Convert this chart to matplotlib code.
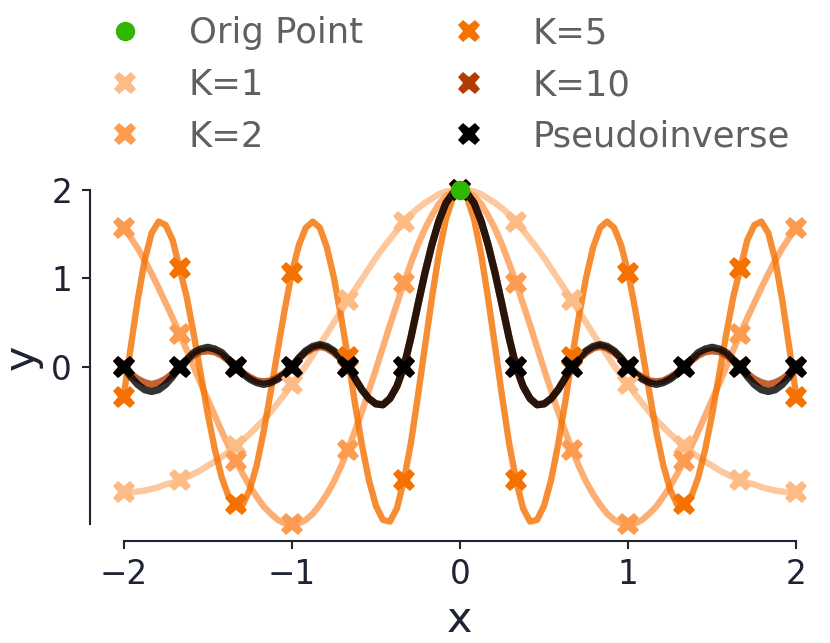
import numpy as np
import matplotlib
matplotlib.use('Agg')
from matplotlib import pyplot as plt
from matplotlib.lines import Line2D

# curve samples, left half x=-2..0 in steps of 1/24 (the picture is symmetric about x=0)
k1_left = [-1.42, -1.42, -1.41, -1.40, -1.38, -1.36, -1.33, -1.31, -1.28,
           -1.25, -1.21, -1.17, -1.12, -1.07, -1.02, -0.96, -0.89,
           -0.83, -0.76, -0.68, -0.60, -0.51, -0.41, -0.31, -0.20,
           -0.10, 0.01, 0.13, 0.25, 0.37, 0.50, 0.62, 0.75,
           0.87, 0.99, 1.11, 1.23, 1.34, 1.44, 1.54, 1.64,
           1.72, 1.79, 1.85, 1.90, 1.95, 1.98, 1.99, 2.00]
k2_left = [1.57, 1.46, 1.34, 1.20, 1.05, 0.89, 0.72, 0.55, 0.37,
           0.19, 0.00, -0.19, -0.37, -0.55, -0.73, -0.90, -1.06,
           -1.21, -1.35, -1.47, -1.58, -1.66, -1.73, -1.77, -1.78,
           -1.77, -1.73, -1.66, -1.56, -1.44, -1.30, -1.13, -0.94,
           -0.73, -0.51, -0.27, -0.03, 0.22, 0.47, 0.71, 0.95,
           1.17, 1.38, 1.56, 1.71, 1.84, 1.93, 1.98, 2.00]
k5_left = [-0.34, 0.21, 0.75, 1.20, 1.51, 1.64, 1.60, 1.43, 1.11,
           0.79, 0.37, -0.08, -0.53, -0.93, -1.25, -1.47, -1.55,
           -1.56, -1.39, -1.11, -0.73, -0.28, 0.19, 0.65, 1.06,
           1.37, 1.57, 1.64, 1.57, 1.35, 1.01, 0.58, 0.11,
           -0.41, -0.88, -1.28, -1.57, -1.73, -1.75, -1.60, -1.28,
           -0.86, -0.33, 0.23, 0.78, 1.28, 1.67, 1.91, 2.00]
k10_left = [0.00, -0.08, -0.14, -0.18, -0.20, -0.18, -0.14, -0.08, 0.00,
            0.07, 0.13, 0.17, 0.18, 0.17, 0.13, 0.07, 0.00,
            -0.07, -0.12, -0.16, -0.17, -0.16, -0.12, -0.07, 0.00,
            0.09, 0.16, 0.21, 0.23, 0.21, 0.16, 0.09, 0.00,
            -0.13, -0.26, -0.36, -0.42, -0.43, -0.36, -0.22, 0.00,
            0.33, 0.70, 1.06, 1.38, 1.65, 1.85, 1.96, 2.00]
pinv_left = [0.00, -0.11, -0.20, -0.26, -0.28, -0.26, -0.20, -0.11, 0.00,
             0.08, 0.16, 0.20, 0.22, 0.20, 0.16, 0.08, 0.00,
             -0.08, -0.14, -0.18, -0.20, -0.18, -0.14, -0.08, 0.00,
             0.10, 0.18, 0.23, 0.25, 0.23, 0.18, 0.10, 0.00,
             -0.13, -0.26, -0.36, -0.42, -0.43, -0.36, -0.22, 0.00,
             0.33, 0.70, 1.06, 1.38, 1.65, 1.85, 1.96, 2.00]

orig_x = [0.0]
orig_y = [2.0]

labels = ['K=1', 'K=2', 'K=5', 'K=10', 'Pseudoinverse']
colors = ['#fdbb86', '#fd9b50', '#f57100', '#b23c02', '#000000']
lefts = [k1_left, k2_left, k5_left, k10_left, pinv_left]

x_line = np.linspace(-2, 2, 97)
every = 8  # sample points sit every 1/3


def full(left):
    left = np.array(left)
    return np.concatenate([left, left[-2::-1]])


fig = plt.figure(figsize=(8.3, 6.43), dpi=100)
ax = fig.add_axes([0.1084, 0.1586, 0.8916, 0.5724])

handles = []
for lab, col, left in zip(labels, colors, lefts):
    y = full(left)
    lw = 5.2 if lab in ('K=10', 'Pseudoinverse') else 4.6
    ax.plot(x_line, y, color=col, lw=lw, alpha=0.8, solid_capstyle='round',
            solid_joinstyle='round', zorder=2)
    ax.plot(x_line[::every], y[::every], ls='none', marker='X', ms=16, mew=0,
            color=col, zorder=3)
    handles.append(Line2D([], [], ls='none', marker='X', ms=16, mew=0, color=col, label=lab))

ax.plot(orig_x, orig_y, ls='none', marker='o', ms=13, color='#30b800', zorder=5)
h_orig = Line2D([], [], ls='none', marker='o', ms=13, color='#30b800', label='Orig Point')

ink = '#1e2433'
ax.spines['top'].set_visible(False)
ax.spines['right'].set_visible(False)
for s in ('left', 'bottom'):
    ax.spines[s].set_color(ink)
    ax.spines[s].set_linewidth(1.5)
ymin = min(min(l) for l in lefts)
ax.spines['left'].set_bounds(ymin, 2)
ax.spines['bottom'].set_bounds(-2, 2)
ax.set_xticks([-2, -1, 0, 1, 2])
ax.set_yticks([0, 1, 2])
ax.tick_params(colors=ink, labelsize=23.5, length=6, width=1.5)
ax.tick_params(axis='x', pad=6)
ax.tick_params(axis='y', pad=7)
ax.set_xlabel('x', fontsize=31, color=ink, labelpad=6)
ax.set_ylabel('y', fontsize=31, color=ink, labelpad=6)

leg = fig.legend(handles=[h_orig] + handles, ncol=2, frameon=False,
                 loc='upper left', bbox_to_anchor=(0.108, 0.9746),
                 fontsize=25.5, borderpad=0, borderaxespad=0, handlelength=2.0,
                 handletextpad=0.8, columnspacing=2.0, labelspacing=0.5)
for t in leg.get_texts():
    t.set_color('#606060')

fig.savefig('out.png', dpi=100)
